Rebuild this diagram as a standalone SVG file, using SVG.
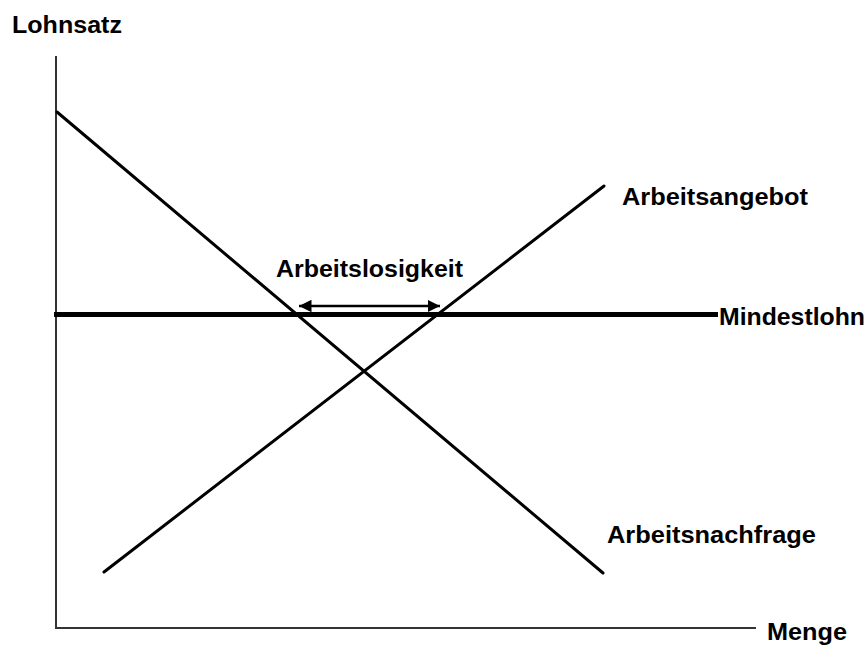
<svg xmlns="http://www.w3.org/2000/svg" width="867" height="645" viewBox="0 0 867 645">
<defs>
<marker id="ah" viewBox="0 0 10 10" refX="10" refY="5" markerWidth="5" markerHeight="5" orient="auto-start-reverse" markerUnits="strokeWidth">
<path d="M0,0 L10,5 L0,10 z" fill="#000"/>
</marker>
<style>
text{font-family:"Liberation Sans",Arial,sans-serif;font-weight:bold;font-size:23px;fill:#000}
.ax{stroke:#333;stroke-width:2;fill:none}
.ln{stroke:#000;stroke-width:3;fill:none;stroke-linecap:round}
</style>
</defs>
<rect width="867" height="645" fill="#fff"/>
<g id="axes">
<path class="ax" d="M56,56 V628 H756"/>
<text x="12" y="33" textLength="110" lengthAdjust="spacingAndGlyphs">Lohnsatz</text>
<text x="767" y="640" textLength="80" lengthAdjust="spacingAndGlyphs">Menge</text>
</g>
<g id="connectors">
<line id="demand" class="ln" x1="57" y1="112" x2="603" y2="573"/>
<line id="supply" class="ln" x1="104" y1="572" x2="604" y2="186"/>
<line id="minwage" x1="54" y1="314.5" x2="718" y2="314.5" stroke="#000" stroke-width="5"/>
<line id="gap" x1="299" y1="306" x2="440" y2="306" stroke="#000" stroke-width="2.5" marker-start="url(#ah)" marker-end="url(#ah)"/>
</g>
<g id="labels">
<text x="622" y="205" textLength="186" lengthAdjust="spacingAndGlyphs">Arbeitsangebot</text>
<text x="276" y="277" textLength="187" lengthAdjust="spacingAndGlyphs">Arbeitslosigkeit</text>
<text x="719" y="325" textLength="146" lengthAdjust="spacingAndGlyphs">Mindestlohn</text>
<text x="607" y="543" textLength="209" lengthAdjust="spacingAndGlyphs">Arbeitsnachfrage</text>
</g>
</svg>
